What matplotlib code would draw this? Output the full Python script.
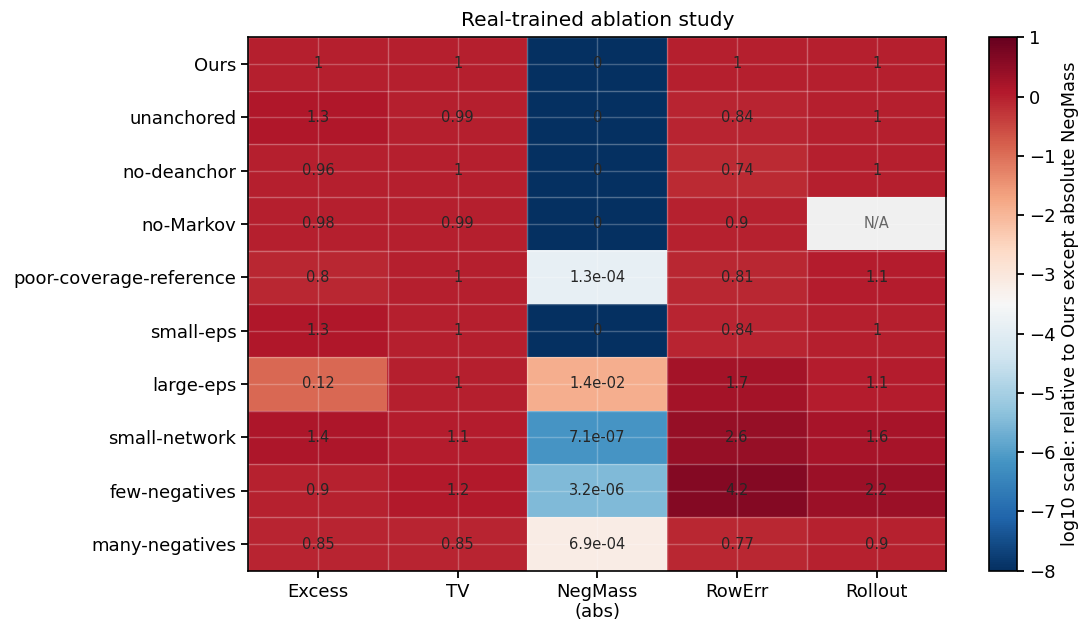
import numpy as np
import matplotlib
matplotlib.use('Agg')
import matplotlib.pyplot as plt

variants = ['Ours', 'unanchored', 'no-deanchor', 'no-Markov', 'poor-coverage-reference',
            'small-eps', 'large-eps', 'small-network', 'few-negatives', 'many-negatives']
metrics = ['Excess', 'TV', 'NegMass\n(abs)', 'RowErr', 'Rollout']

excess = [1, 1.3, 0.96, 0.98, 0.8, 1.3, 0.12, 1.4, 0.9, 0.85]
tv = [1, 0.99, 1, 0.99, 1, 1, 1, 1.1, 1.2, 0.85]
negmass = [0, 0, 0, 0, 1.3e-4, 0, 1.4e-2, 7.1e-7, 3.2e-6, 6.9e-4]
rowerr = [1, 0.84, 0.74, 0.9, 0.81, 0.84, 1.7, 2.6, 4.2, 0.77]
rollout = [1, 1, 1, np.nan, 1.1, 1, 1.1, 1.6, 2.2, 0.9]

raw = np.array([excess, tv, negmass, rowerr, rollout]).T
vmin, vmax = -8, 1
with np.errstate(divide='ignore'):
    logv = np.log10(raw)
logv = np.where(np.isneginf(logv), vmin, logv)
logv = np.ma.masked_invalid(logv)

cmap = plt.get_cmap('RdBu_r').copy()
cmap.set_bad('#f0f0f0')

fig = plt.figure(figsize=(10.86, 6.21), dpi=100)
ax = fig.add_axes([0.2285, 0.081, 0.643, 0.859])
cax = fig.add_axes([0.9105, 0.081, 0.026, 0.859])

im = ax.imshow(logv, cmap=cmap, vmin=vmin, vmax=vmax, aspect='auto')

ax.set_xticks(range(len(metrics)))
ax.set_xticklabels(metrics, fontsize=13)
ax.set_yticks(range(len(variants)))
ax.set_yticklabels(variants, fontsize=13)
ax.set_xticks(np.arange(-0.5, len(metrics), 1), minor=True)
ax.set_yticks(np.arange(-0.5, len(variants), 1), minor=True)
ax.tick_params(which='minor', length=0)
ax.tick_params(which='major', width=1.3, length=5)
for sp in ax.spines.values():
    sp.set_linewidth(1.2)
ax.grid(True, which='major', color='white', alpha=0.25, linewidth=1)
ax.grid(True, which='minor', color='white', alpha=0.3, linewidth=1)
ax.set_title('Real-trained ablation study', fontsize=14.5, pad=8)

for i in range(len(variants)):
    for j in range(len(metrics)):
        v = raw[i, j]
        if np.isnan(v):
            ax.text(j, i, 'N/A', ha='center', va='center', fontsize=10.5, color='#666666')
            continue
        if j == 2:
            s = '0' if v == 0 else f'{v:.1e}'
        else:
            s = f'{v:.2g}'
        ax.text(j, i, s, ha='center', va='center', fontsize=10.5, color='#262626')

cb = fig.colorbar(im, cax=cax)
cb.set_ticks(range(vmin, vmax + 1))
cb.ax.tick_params(labelsize=13, width=1.3, length=5)
cb.outline.set_linewidth(1.2)
cb.set_label('log10 scale: relative to Ours except absolute NegMass', fontsize=12.8)

fig.savefig('out.png', dpi=100)
